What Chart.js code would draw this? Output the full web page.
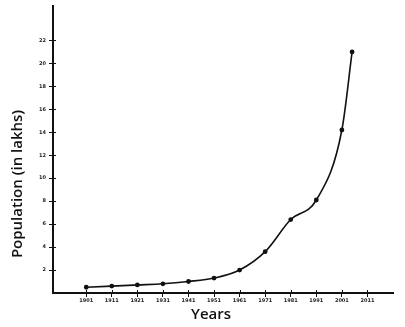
<!DOCTYPE html>
<html>
<head>
<meta charset="utf-8">
<script src="https://cdn.jsdelivr.net/npm/chart.js@4"></script>
<style>
  html, body { margin: 0; padding: 0; background: #fff; }
  #wrap { width: 405px; height: 327px; position: relative; }
</style>
</head>
<body>
<div id="wrap"><canvas id="popChart"></canvas></div>
<script>
// census years and population (lakhs)
const years = [1901, 1911, 1921, 1931, 1941, 1951, 1961, 1971, 1981, 1991, 2001, 2005];
const population = [0.5, 0.6, 0.7, 0.8, 1.0, 1.3, 2.0, 3.6, 6.4, 8.1, 14.2, 21.0];

const yearTicks = [1901, 1911, 1921, 1931, 1941, 1951, 1961, 1971, 1981, 1991, 2001, 2011];
const popTicks = [2, 4, 6, 8, 10, 12, 14, 16, 18, 20, 22];

// axis titles drawn by hand so they sit where we want them,
// plus short tick stubs poking inside the plot area
const axisExtras = {
    id: 'axisExtras',
    afterDraw(chart) {
        const ctx = chart.ctx;
        const xs = chart.scales.x, ys = chart.scales.y;
        ctx.save();
        ctx.strokeStyle = '#111';
        ctx.lineWidth = 1;
        ctx.beginPath();
        xs.ticks.forEach(t => {
            const px = Math.round(xs.getPixelForValue(t.value)) + 0.5;
            ctx.moveTo(px, xs.top);
            ctx.lineTo(px, xs.top - 3);
        });
        ys.ticks.forEach(t => {
            const py = Math.round(ys.getPixelForValue(t.value)) + 0.5;
            ctx.moveTo(ys.right, py);
            ctx.lineTo(ys.right + 3, py);
        });
        ctx.stroke();

        ctx.fillStyle = '#111';
        ctx.font = '600 15px "Open Sans"';
        ctx.textAlign = 'center';
        ctx.textBaseline = 'middle';
        ctx.fillText('Years', 211, 315);
        ctx.translate(18, 184);
        ctx.rotate(-Math.PI / 2);
        ctx.fillText('Population (in lakhs)', 0, 0);
        ctx.restore();
    }
};

const ctx = document.getElementById('popChart').getContext('2d');
const chart = new Chart(ctx, {
    type: 'line',
    data: {
        datasets: [{
            data: years.map((y, i) => ({ x: y, y: population[i] })),
            borderColor: '#111',
            backgroundColor: '#111',
            borderWidth: 1.6,
            pointRadius: 1.6,
            pointBackgroundColor: '#111',
            cubicInterpolationMode: 'monotone',
            fill: false
        }]
    },
    options: {
        responsive: true,
        maintainAspectRatio: false,
        animation: false,
        layout: { padding: { top: 3, right: 12, left: 0, bottom: 0 } },
        plugins: { legend: { display: false }, tooltip: { enabled: false } },
        scales: {
            x: {
                type: 'linear',
                min: 1888,
                max: 2021,
                afterBuildTicks: s => { s.ticks = yearTicks.map(v => ({ value: v })); },
                afterFit: s => { s.height = 34; },
                border: { color: '#111', width: 2 },
                grid: { drawOnChartArea: false, color: '#111', tickLength: 4, lineWidth: 1 },
                ticks: {
                    color: '#222',
                    padding: 1,
                    maxRotation: 0,
                    font: { family: 'DejaVu Sans', size: 5, weight: 'bold' },
                    callback: v => String(v)
                }
            },
            y: {
                min: 0,
                max: 25,
                afterBuildTicks: s => { s.ticks = popTicks.map(v => ({ value: v })); },
                afterFit: s => { s.width = 53; },
                border: { color: '#111', width: 2 },
                grid: { drawOnChartArea: false, color: '#111', tickLength: 4, lineWidth: 1 },
                ticks: {
                    color: '#222',
                    padding: 3,
                    font: { family: 'DejaVu Sans', size: 5, weight: 'bold' }
                }
            }
        }
    },
    plugins: [axisExtras]
});
</script>
</body>
</html>
